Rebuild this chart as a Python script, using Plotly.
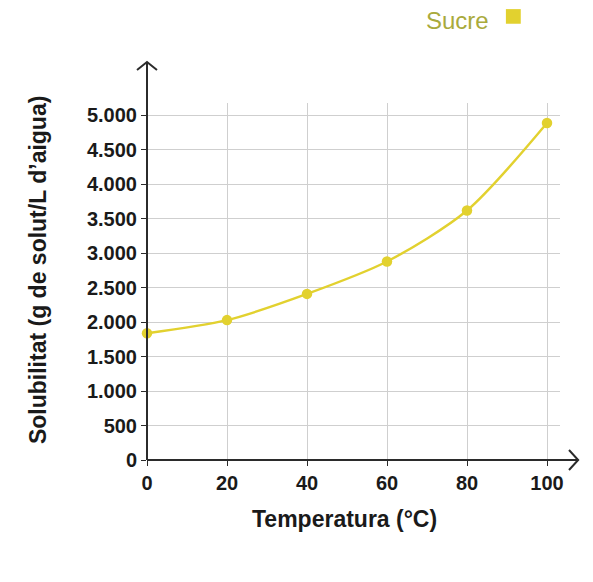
import plotly.graph_objects as go

# solubility of sugar (sucrose) in water
temperatura = [0, 20, 40, 60, 80, 100]
solubilitat = [1840, 2030, 2410, 2880, 3620, 4890]
serie = "Sucre"

y_ticks = list(range(0, 5001, 500))
x_ticks = [0, 20, 40, 60, 80, 100]

YELLOW = "#e2d12f"
AXIS = "#2b2b2b"
GRID = "#cfcfcf"
FONT = "Liberation Sans"

fig = go.Figure()
fig.add_trace(
    go.Scatter(
        x=temperatura,
        y=solubilitat,
        name=serie,
        mode="lines+markers",
        line={"color": YELLOW, "width": 2.4, "shape": "spline", "smoothing": 0.8},
        marker={"color": YELLOW, "size": 10.5},
        cliponaxis=False,
        showlegend=False,
    )
)

# axis lines with open arrow heads (paper coords, plot area = [0,1])
axis_line = {"color": AXIS, "width": 2}
shapes = [
    {"type": "line", "xref": "paper", "yref": "paper", "x0": 0, "y0": 0, "x1": 0, "y1": 1.115, "line": axis_line},
    {"type": "line", "xref": "paper", "yref": "paper", "x0": 0, "y0": 0, "x1": 1.044, "y1": 0, "line": axis_line},
    {"type": "path", "xref": "paper", "yref": "paper",
     "path": "M -0.0242,1.0926 L 0,1.115 L 0.0242,1.0926", "line": axis_line},
    {"type": "path", "xref": "paper", "yref": "paper",
     "path": "M 1.0218,0.028 L 1.044,0 L 1.0218,-0.028", "line": axis_line},
    # legend square
    {"type": "rect", "xref": "paper", "yref": "paper", "x0": 0.869, "x1": 0.905, "y0": 1.222, "y1": 1.263,
     "fillcolor": YELLOW, "line": {"width": 0}},
]

title_font = {"family": FONT, "size": 23, "weight": "bold", "color": "#1a1a1a"}

# the page has an 8px body margin, so the figure is 16px smaller than the window
fig.update_layout(
    width=585,
    height=574,
    margin={"l": 139, "r": 33, "t": 95, "b": 122},
    paper_bgcolor="white",
    plot_bgcolor="white",
    separators=",.",
    font={"family": FONT, "color": "#1a1a1a", "size": 18},
    shapes=shapes,
    annotations=[
        {"text": serie, "xref": "paper", "yref": "paper", "x": 0.833, "y": 1.232, "xanchor": "right",
         "yanchor": "middle", "showarrow": False, "font": {"family": FONT, "size": 24, "color": "#a9aa3c"}},
        {"text": "Solubilitat (g de solut/L d\u2019aigua)", "xref": "paper", "yref": "paper", "x": -0.264,
         "y": 0.532, "xanchor": "center", "yanchor": "middle", "textangle": -90, "showarrow": False,
         "font": title_font},
        {"text": "Temperatura (°C)", "xref": "paper", "yref": "paper", "x": 0.479, "y": -0.165,
         "xanchor": "center", "yanchor": "middle", "showarrow": False, "font": title_font},
    ],
    xaxis={
        "range": [0, 103.25],
        "tickvals": x_ticks,
        "showgrid": True,
        "gridcolor": GRID,
        "gridwidth": 1,
        "zeroline": False,
        "showline": False,
        "ticks": "outside",
        "ticklen": 5,
        "tickcolor": AXIS,
        "tickfont": {"family": FONT, "size": 20, "weight": "bold"},
    },
    yaxis={
        "range": [0, 5180],
        "tickvals": y_ticks,
        "tickformat": ",d",
        "showgrid": True,
        "gridcolor": GRID,
        "gridwidth": 1,
        "zeroline": False,
        "showline": False,
        "ticks": "outside",
        "ticklen": 5,
        "tickcolor": AXIS,
        "tickfont": {"family": FONT, "size": 20, "weight": "bold"},
    },
)

fig.write_html("out.html")
